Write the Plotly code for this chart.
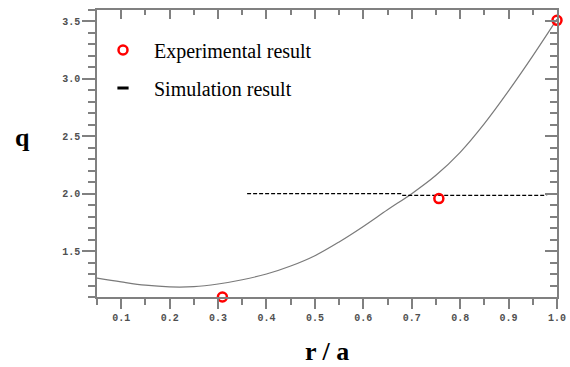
import plotly.graph_objects as go

# Profile curve (solid gray)
r_curve = [0.05, 0.10, 0.15, 0.20, 0.25, 0.30, 0.35, 0.40, 0.45, 0.50, 0.55, 0.60,
           0.65, 0.70, 0.75, 0.80, 0.85, 0.90, 0.95, 1.00]
q_curve = [1.265, 1.232, 1.203, 1.188, 1.19, 1.213, 1.25, 1.30, 1.37, 1.46, 1.58, 1.715,
           1.86, 2.0, 2.16, 2.36, 2.61, 2.895, 3.2, 3.52]

# Simulation result (dashed black)
r_sim = [0.36, 0.678, 0.68, 0.975, 0.985, 1.0]
q_sim = [2.0, 2.0, 1.986, 1.986, 2.0, 2.0]

# Experimental result (red open circles)
r_exp = [0.309, 0.756, 1.0]
q_exp = [1.10, 1.957, 3.51]

x_ticks = [0.1, 0.2, 0.3, 0.4, 0.5, 0.6, 0.7, 0.8, 0.9, 1.0]
x_ticktext = ["0.1", "0.2", "0.3", "0.4", "0.5", "0.6", "0.7", "0.8", "0.9", "1.0"]
y_ticks = [1.5, 2.0, 2.5, 3.0, 3.5]
y_ticktext = ["1.5", "2.0", "2.5", "3.0", "3.5"]

x_range = [0.05, 1.0]
y_range = [1.1, 3.6]

AX = "#808080"
TICKFONT = dict(family="Liberation Mono", size=10, color="#505050", weight="bold")

fig = go.Figure()

fig.add_trace(go.Scatter(x=r_curve, y=q_curve, mode="lines",
                         line=dict(color="#7a7a7a", width=1.2, shape="spline", smoothing=1.0),
                         showlegend=False, hoverinfo="skip"))
fig.add_trace(go.Scatter(x=r_sim, y=q_sim, mode="lines",
                         line=dict(color="black", width=1.3, dash="4px,2px"),
                         showlegend=False))
fig.add_trace(go.Scatter(x=r_exp, y=q_exp, mode="markers", name="Experimental result",
                         marker=dict(symbol="circle-open", size=9, color="#ff0000",
                                     line=dict(width=2.5, color="#ff0000")),
                         cliponaxis=False, legendgroup="exp", legendrank=1))
# legend key for the simulation line
fig.add_trace(go.Scatter(x=[None], y=[None], mode="markers", name="Simulation result",
                         marker=dict(symbol="line-ew-open", size=8, color="black",
                                     line=dict(width=3, color="black")),
                         legendgroup="sim", legendrank=2))
# dummy trace to activate mirrored (top/right) axes
fig.add_trace(go.Scatter(x=[None], y=[None], xaxis="x2", yaxis="y2",
                         showlegend=False, hoverinfo="skip"))

fig.update_layout(
    width=570, height=367,
    margin=dict(l=97, r=13, t=10, b=70, autoexpand=False),
    paper_bgcolor="white", plot_bgcolor="white",
    xaxis=dict(range=x_range, tickvals=x_ticks, ticktext=x_ticktext, tickangle=0,
               ticks="outside", ticklen=10, tickwidth=1.5, tickcolor=AX,
               showline=True, linecolor=AX, linewidth=1.5, showgrid=False, zeroline=False,
               tickfont=TICKFONT,
               minor=dict(dtick=0.05, tick0=0.05, ticks="outside", ticklen=6,
                          tickwidth=1.5, tickcolor=AX, showgrid=False)),
    yaxis=dict(range=y_range, tickvals=y_ticks, ticktext=y_ticktext,
               ticks="outside", ticklen=13, tickwidth=1.5, tickcolor=AX,
               showline=True, linecolor=AX, linewidth=1.5, showgrid=False, zeroline=False,
               tickfont=TICKFONT,
               minor=dict(dtick=0.1, tick0=1.1, ticks="outside", ticklen=7,
                          tickwidth=1.5, tickcolor=AX, showgrid=False)),
    xaxis2=dict(range=x_range, overlaying="x", side="top", anchor="y",
                tickvals=x_ticks, showticklabels=False,
                ticks="inside", ticklen=9, tickwidth=1.5, tickcolor=AX,
                showline=True, linecolor=AX, linewidth=1.5, showgrid=False, zeroline=False,
                minor=dict(dtick=0.05, tick0=0.05, ticks="inside", ticklen=5,
                           tickwidth=1.5, tickcolor=AX, showgrid=False)),
    yaxis2=dict(range=y_range, overlaying="y", side="right", anchor="x",
                tickvals=y_ticks, showticklabels=False,
                ticks="inside", ticklen=12, tickwidth=1.5, tickcolor=AX,
                showline=True, linecolor=AX, linewidth=1.5, showgrid=False, zeroline=False,
                minor=dict(dtick=0.1, tick0=1.1, ticks="inside", ticklen=7,
                           tickwidth=1.5, tickcolor=AX, showgrid=False)),
    legend=dict(xref="container", yref="container", x=92/570, y=1 - 30.5/367,
                xanchor="left", yanchor="top", bgcolor="rgba(0,0,0,0)", borderwidth=0,
                font=dict(family="Liberation Serif", size=20, color="black"),
                itemwidth=52, tracegroupgap=9, traceorder="grouped"),
    annotations=[
        dict(text="q", xref="paper", yref="paper", x=(22.5 - 97) / 460, y=(297 - 137) / 287,
             xanchor="center", yanchor="middle", showarrow=False,
             font=dict(family="Liberation Serif", size=26, color="black", weight="bold")),
        dict(text="r / a", xref="paper", yref="paper", x=0.5, y=(297 - 351.5) / 287,
             xanchor="center", yanchor="middle", showarrow=False,
             font=dict(family="Liberation Serif", size=26, color="black", weight="bold")),
    ],
)

fig.write_html("out.html")
